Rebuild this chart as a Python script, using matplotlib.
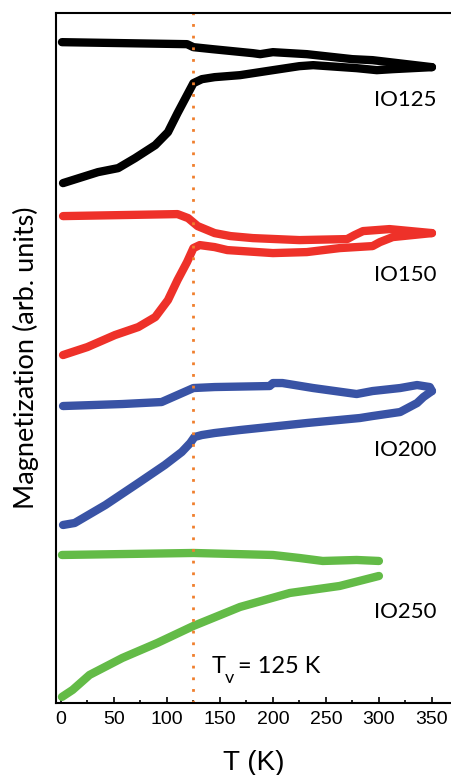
import matplotlib
matplotlib.use("Agg")
import matplotlib.pyplot as plt
from matplotlib.ticker import MultipleLocator

# temperature (K) and magnetization (arb. units)
# lower branch = ZFC warming, upper branch = FC
t125_zfc = [2, 35, 54, 70, 89, 101, 110, 119, 125, 133, 145, 169, 200, 225, 238, 279, 298, 313, 350]
m125_zfc = [520, 531, 535, 545, 558, 571, 590, 608, 620, 624, 626, 628, 633, 637, 638, 635, 633, 634, 636]
t125_fc = [1, 119, 125, 143, 181, 188, 200, 232, 275, 294, 350]
m125_fc = [661, 659, 656, 654, 650, 649, 651, 649, 644, 643, 636]

t150_zfc = [2, 25, 51, 73, 89, 101, 110, 119, 125, 131, 145, 157, 200, 232, 263, 294, 301, 313, 350]
m150_zfc = [348, 356, 368, 376, 386, 403, 423, 441, 455, 458, 456, 453, 450, 451, 455, 457, 461, 466, 470]
t150_fc = [2, 110, 120, 129, 145, 160, 181, 225, 270, 277, 285, 310, 350]
m150_fc = [487, 489, 485, 477, 470, 467, 465, 463, 464, 468, 472, 474, 470]

t200_zfc = [2, 13, 42, 73, 98, 114, 122, 126, 133, 145, 169, 232, 282, 294, 320, 336, 342, 350]
m200_zfc = [178, 180, 198, 220, 238, 251, 260, 266, 268, 270, 273, 280, 285, 287, 291, 300, 306, 312]
t200_fc = [2, 58, 95, 110, 125, 145, 197, 200, 209, 238, 279, 294, 320, 336, 348, 350]
m200_fc = [297, 299, 301, 308, 315, 316, 317, 320, 320, 315, 309, 312, 315, 318, 316, 312]

t250_zfc = [1, 11, 27, 58, 91, 125, 169, 216, 263, 300]
m250_zfc = [6, 13, 28, 45, 60, 77, 96, 110, 117, 127]
t250_fc = [1, 125, 200, 225, 247, 279, 300]
m250_fc = [148, 150, 148, 145, 142, 143, 142]

samples = ["IO125", "IO150", "IO200", "IO250"]
label_y = [603, 428, 253, 91]
colors = ["black", "#ee3129", "#3953a5", "#63bb47"]

fig = plt.figure(figsize=(4.51, 7.75), dpi=100)
ax = fig.add_axes([0.124, 0.093, 0.876, 0.89])

curves = [
    (t125_zfc, m125_zfc, t125_fc, m125_fc),
    (t150_zfc, m150_zfc, t150_fc, m150_fc),
    (t200_zfc, m200_zfc, t200_fc, m200_fc),
    (t250_zfc, m250_zfc, t250_fc, m250_fc),
]
for (tz, mz, tf, mf), c in zip(curves, colors):
    ax.plot(tz, mz, color=c, lw=6, solid_capstyle="round", solid_joinstyle="round")
    ax.plot(tf, mf, color=c, lw=6, solid_capstyle="round", solid_joinstyle="round")

for name, y in zip(samples, label_y):
    ax.text(354, y, name, ha="right", va="center", fontsize=16, family="Lato")

# Verwey transition
ax.axvline(125, color="#f07f2d", lw=2, ls=(0, (1, 3.2)))
ax.text(142.5, 30, "T", fontsize=17, family="Lato", va="baseline")
ax.text(154.5, 20, "v", fontsize=13, family="Lato", va="baseline")
ax.text(167, 30, "= 125 K", fontsize=17, family="Lato", va="baseline")

ax.set_xlim(-4.7, 368)
ax.set_ylim(0, 690)
ax.set_yticks([])
ax.xaxis.set_major_locator(MultipleLocator(50))
ax.xaxis.set_minor_locator(MultipleLocator(25))
ax.tick_params(axis="x", which="major", direction="in", length=4, width=1.2,
               labelsize=14, pad=6)
ax.tick_params(axis="x", which="minor", direction="in", length=2.5, width=1.2)
for lbl in ax.get_xticklabels():
    lbl.set_family("Liberation Sans")
ax.spines["right"].set_visible(False)
for s in ["left", "bottom", "top"]:
    ax.spines[s].set_linewidth(1.5)

ax.set_xlabel("T (K)", fontsize=20, family="Liberation Sans", labelpad=16)
ax.set_ylabel("Magnetization (arb. units)", fontsize=19.5, family="Lato", labelpad=12)

fig.savefig("out.png", dpi=100)
